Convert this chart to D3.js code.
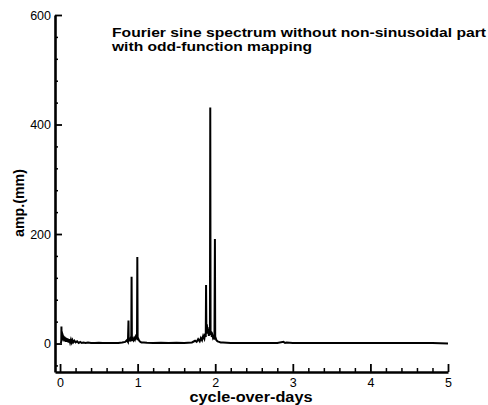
<!DOCTYPE html>
<html>
<head>
<meta charset="utf-8">
<script src="https://cdn.jsdelivr.net/npm/d3@7"></script>
<style>
  html, body { margin: 0; padding: 0; background: #fff; }
  svg { display: block; }
  text { font-family: "Liberation Sans", Arial, sans-serif; fill: #000; }
</style>
</head>
<body>
<svg id="chart" width="488" height="405"></svg>
<script>
// ---- data ----
const titleLines = ["Fourier sine spectrum without non-sinusoidal part", "with odd-function mapping"];
const xLabel = "cycle-over-days";
const yLabel = "amp.(mm)";
const xTicks = [0, 1, 2, 3, 4, 5];
const yTicks = [0, 200, 400, 600];
const xMinorTicks = [0.2,0.4,0.6,0.8,1.2,1.4,1.6,1.8,2.2,2.4,2.6,2.8,3.2,3.4,3.6,3.8,4.2,4.4,4.6,4.8];
const yMinorTicks = [-40,40,80,120,160,240,280,320,360,440,480,520,560];

// spectrum: frequency (cycle/day) and amplitude (mm)
const freq = [
  0.010,0.016,0.018,0.020,0.024,0.028,0.032,0.036,0.040,0.045,0.050,0.055,0.060,0.066,0.072,0.078,0.085,0.092,
  0.100,0.110,0.120,0.130,0.140,0.150,0.160,0.170,0.185,0.200,0.220,0.240,0.260,0.280,0.300,0.330,0.360,0.400,
  0.450,0.500,0.550,0.600,0.650,0.700,0.750,0.800,0.840,0.860,0.875,0.882,0.885,0.888,0.900,0.910,0.918,0.922,
  0.926,0.935,0.945,0.955,0.965,0.975,0.985,0.992,0.996,1.000,1.008,1.020,1.035,1.050,1.080,1.120,1.200,1.300,
  1.400,1.500,1.600,1.700,1.740,1.760,1.780,1.800,1.815,1.830,1.845,1.860,1.870,1.878,1.882,1.886,1.892,1.898,
  1.902,1.910,1.918,1.926,1.932,1.936,1.940,1.948,1.956,1.964,1.972,1.980,1.990,1.996,2.000,2.006,2.015,2.030,
  2.050,2.070,2.100,2.150,2.200,2.300,2.400,2.500,2.600,2.700,2.800,2.880,2.900,2.920,3.000,3.200,3.400,3.600,
  3.800,4.000,4.200,4.400,4.600,4.800,5.000
];
const amp = [
  1,4,31,6,22,8,18,6,15,5,13,4,12,4,11,3,10,3,
  9,2,8,2,7,2,6,2,5,2,4,1,3,1,2,1,2,1,
  1,1.5,1,1,1,1,1,2,3,6,3,42,4,8,6,10,4,122,
  5,9,6,10,7,12,8,14,158,6,9,5,3,2,2,1.5,1,1.5,
  1,1.5,1,2,5,3,8,4,10,6,14,9,18,12,107,20,35,24,
  18,26,14,30,20,431,16,22,12,15,10,12,8,191,7,10,6,4,
  3,2,2,1.5,1,1,1,1,1,1,1,3,1,2,1,1,1,1,
  1,1,1,1,1,1,0
];

// ---- chart ----
const svg = d3.select("#chart");
svg.append("rect").attr("width", 488).attr("height", 405).attr("fill", "#fff");

const x = d3.scaleLinear().domain([-0.065, 5]).range([55, 448]);
const y = d3.scaleLinear().domain([-52, 600]).range([372, 15]);

// spectrum line
const pts = freq.map((f, i) => [f, amp[i]]);
svg.append("path")
  .datum(pts)
  .attr("fill", "none")
  .attr("stroke", "#000")
  .attr("stroke-width", 2)
  .attr("stroke-linejoin", "miter")
  .attr("d", d3.line().x(d => x(d[0])).y(d => y(d[1])));

// axes
const styleAxis = g => {
  g.selectAll(".domain").attr("stroke", "#000").attr("stroke-width", 2.6);
  g.selectAll(".tick line").attr("stroke", "#000").attr("stroke-width", 1.8);
  g.selectAll("text").style("font-family", "Liberation Sans, Arial, sans-serif").style("font-size", "12.5px").attr("fill", "#000");
};

svg.append("g").attr("transform", "translate(55,0)")
  .call(d3.axisLeft(y).tickValues(yMinorTicks).tickSize(-3).tickSizeOuter(0).tickFormat(""))
  .call(g => { g.select(".domain").remove(); g.selectAll(".tick line").attr("stroke", "#000").attr("stroke-width", 1.5); });

svg.append("g").attr("transform", "translate(0,372)")
  .call(d3.axisBottom(x).tickValues(xMinorTicks).tickSize(-4).tickSizeOuter(0).tickFormat(""))
  .call(g => { g.select(".domain").remove(); g.selectAll(".tick line").attr("stroke", "#000").attr("stroke-width", 1.5); });

svg.append("g").attr("transform", "translate(55,0)")
  .call(d3.axisLeft(y).tickValues(yTicks).tickSize(-7).tickSizeOuter(0).tickPadding(4).tickFormat(d3.format("d")))
  .call(styleAxis);

svg.append("g").attr("transform", "translate(0,372)")
  .call(d3.axisBottom(x).tickValues(xTicks).tickSize(-8).tickSizeOuter(0).tickPadding(6).tickFormat(d3.format("d")))
  .call(styleAxis);

// title
titleLines.forEach((t, i) => {
  svg.append("text")
    .attr("x", 112).attr("y", 36.5 + i * 14.5)
    .attr("font-size", "13px").attr("font-weight", "bold")
    .attr("textLength", i === 0 ? 374 : 200).attr("lengthAdjust", "spacingAndGlyphs")
    .text(t);
});

// axis labels
svg.append("text")
  .attr("x", 251).attr("y", 402)
  .attr("text-anchor", "middle")
  .attr("font-size", "14px").attr("font-weight", "bold")
  .attr("textLength", 123).attr("lengthAdjust", "spacingAndGlyphs")
  .text(xLabel);

svg.append("text")
  .attr("transform", "translate(24,203) rotate(-90)")
  .attr("text-anchor", "middle")
  .attr("font-size", "14px").attr("font-weight", "bold")
  .attr("textLength", 68).attr("lengthAdjust", "spacingAndGlyphs")
  .text(yLabel);
</script>
</body>
</html>
